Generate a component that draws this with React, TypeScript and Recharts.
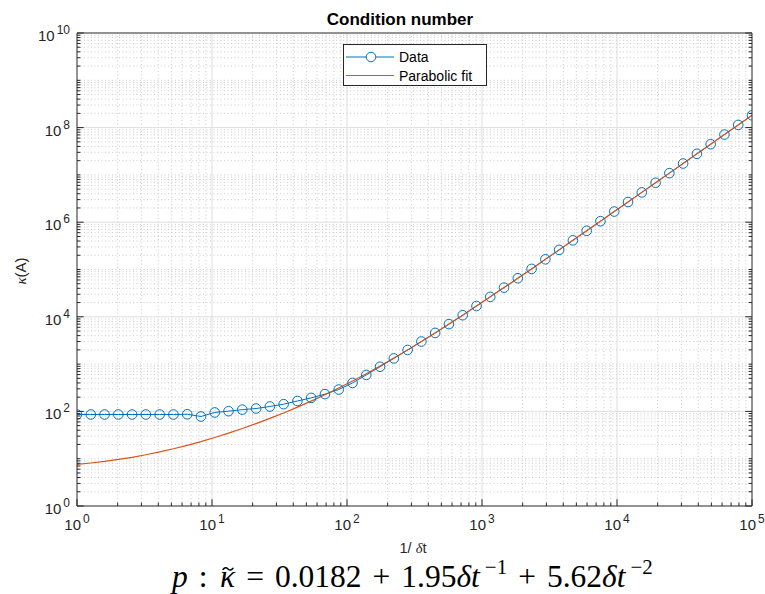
import { ComposedChart, Line, XAxis, YAxis, ReferenceLine } from 'recharts'

// 1/dt sample points (logspace 0..5, 50 points)
const xValues = [
  1, 1.265, 1.6, 2.024, 2.56, 3.237, 4.095, 5.179, 6.551, 8.286,
  10.48, 13.26, 16.77, 21.21, 26.83, 33.93, 42.92, 54.28, 68.66, 86.85,
  109.9, 138.9, 175.7, 222.3, 281.2, 355.6, 449.8, 568.9, 719.6, 910.2,
  1151, 1456, 1842, 2330, 2947, 3727, 4714, 5963, 7542, 9540,
  12070, 15260, 19310, 24420, 30890, 39070, 49410, 62500, 79050, 100000,
]

// measured condition number
const kappaData = [
  86, 86, 86, 86, 86, 86, 86, 86, 87, 78,
  95, 101, 109, 115, 127, 142, 166, 193, 232, 290,
  400, 590, 880, 1320, 1990, 3000, 4560, 7000, 10800, 16900,
  26400, 41400, 65400, 103000, 164000, 260000, 414000, 659000, 1050000, 1680000,
  2670000, 4270000, 6820000, 10900000, 17400000, 27900000, 44500000, 71200000, 114000000, 182000000,
]

// parabolic fit curve
const kappaFit = [
  7.59, 8.12, 8.79, 9.64, 10.7, 12.1, 13.9, 16.2, 19.2, 23.0,
  28.1, 34.7, 43.4, 55.2, 71.0, 92.7, 123, 165, 225, 312,
  439, 628, 910, 1340, 1990, 3000, 4570, 7010, 10800, 16900,
  26400, 41400, 65400, 103000, 164000, 260000, 414000, 659000, 1050000, 1680000,
  2670000, 4270000, 6820000, 10900000, 17400000, 27900000, 44500000, 71200000, 114000000, 182000000,
]

const xDecades = [0, 1, 2, 3, 4, 5]
const yDecades = [0, 1, 2, 3, 4, 5, 6, 7, 8, 9, 10]
const yLabelled = [0, 2, 4, 6, 8, 10]
const mantissas = [2, 3, 4, 5, 6, 7, 8, 9]

const BLUE = '#0072BD'
const RED = '#D95319'
const AXIS = '#262626'
const SANS = "'Liberation Sans', Arial, Helvetica, sans-serif"
const SERIF = "'Liberation Serif', 'Times New Roman', serif"

const chartData = xValues.map((x, i) => ({ x, data: kappaData[i], fit: kappaFit[i] }))

const minorOf = (decades: number[]) =>
  decades.slice(0, -1).flatMap((d) => mantissas.map((m) => m * Math.pow(10, d)))

const xMajor = xDecades.map((d) => Math.pow(10, d))
const xMinor = minorOf(xDecades)
const xTicks = [...xMajor, ...xMinor]

const yMajor = yLabelled.map((d) => Math.pow(10, d))
const yOdd = yDecades.filter((d) => !yLabelled.includes(d)).map((d) => Math.pow(10, d))
const yMinor = [...minorOf(yDecades), ...yOdd]
const yTicks = [...yMajor, ...yMinor]

const exponentOf = (v: number) => Math.round(Math.log10(v))
const isMajorX = (v: number) => Math.abs(Math.log10(v) - exponentOf(v)) < 1e-6
const isMajorY = (v: number) => isMajorX(v) && exponentOf(v) % 2 === 0

const MAJOR_LEN = 6.7
const MINOR_LEN = 3.4

function BottomTick(props: any) {
  const { x, y, payload } = props
  const major = isMajorX(payload.value)
  return (
    <g>
      <line x1={x} x2={x} y1={y} y2={y - (major ? MAJOR_LEN : MINOR_LEN)} stroke={AXIS} strokeWidth={1} />
      {major && (
        <text x={x} y={y + 24} textAnchor="middle" fill={AXIS} fontSize={15} fontFamily={SANS}>
          10<tspan dx={2} dy={-7} fontSize={12}>{exponentOf(payload.value)}</tspan>
        </text>
      )}
    </g>
  )
}

function TopTick(props: any) {
  const { x, y, payload } = props
  const major = isMajorX(payload.value)
  return <line x1={x} x2={x} y1={y} y2={y + (major ? MAJOR_LEN : MINOR_LEN)} stroke={AXIS} strokeWidth={1} />
}

function LeftTick(props: any) {
  const { x, y, payload } = props
  const major = isMajorY(payload.value)
  return (
    <g>
      <line x1={x} x2={x + (major ? MAJOR_LEN : MINOR_LEN)} y1={y} y2={y} stroke={AXIS} strokeWidth={1} />
      {major && (
        <text x={x - 7} y={y + 8} textAnchor="end" fill={AXIS} fontSize={15} fontFamily={SANS}>
          10<tspan dx={2} dy={-7} fontSize={12}>{exponentOf(payload.value)}</tspan>
        </text>
      )}
    </g>
  )
}

function RightTick(props: any) {
  const { x, y, payload } = props
  const major = isMajorY(payload.value)
  return <line x1={x} x2={x - (major ? MAJOR_LEN : MINOR_LEN)} y1={y} y2={y} stroke={AXIS} strokeWidth={1} />
}

function LegendBox() {
  return (
    <div
      style={{
        position: 'absolute',
        left: 343,
        top: 44,
        width: 144,
        height: 42,
        border: `1px solid ${AXIS}`,
        background: '#fff',
        boxSizing: 'border-box',
      }}
    >
      <svg width={142} height={40} style={{ display: 'block' }}>
        <line x1={2} x2={50} y1={12} y2={12} stroke={BLUE} strokeWidth={1} />
        <circle cx={27} cy={12} r={4.8} stroke={BLUE} fill="#fff" strokeWidth={1} />
        <text x={55} y={17} fontSize={14} fontFamily={SANS} fill="#000">Data</text>
        <line x1={2} x2={50} y1={30.5} y2={30.5} stroke={RED} strokeWidth={1.2} />
        <text x={55} y={35.5} fontSize={14} fontFamily={SANS} fill="#000">Parabolic fit</text>
      </svg>
    </div>
  )
}

// fit equation, laid out left to right with TeX-like spacing
const KAPPA_X = 220
function Formula() {
  return (
    <g>
      <text x={172} y={587} fontSize={31.5} fontFamily={SERIF} fill="#000">
        <tspan fontStyle="italic">p</tspan>
        <tspan dx={11}>:</tspan>
        <tspan x={KAPPA_X} fontStyle="italic">κ</tspan>
        <tspan dx={11}>=</tspan>
        <tspan dx={11}>0.0182</tspan>
        <tspan dx={11}>+</tspan>
        <tspan dx={11}>1.95</tspan>
        <tspan fontStyle="italic">δt</tspan>
        <tspan dx={5} dy={-13} fontSize={21}>−1</tspan>
        <tspan dx={11} dy={13}>+</tspan>
        <tspan dx={11}>5.62</tspan>
        <tspan fontStyle="italic">δt</tspan>
        <tspan dx={5} dy={-13} fontSize={21}>−2</tspan>
      </text>
      <path
        d={`M${KAPPA_X + 3} 569.5 q2.5 -3.2 5 -0.6 t5 -0.6`}
        fill="none"
        stroke="#000"
        strokeWidth={1.4}
        strokeLinecap="round"
      />
    </g>
  )
}

function Annotations() {
  return (
    <svg width={765} height={594} style={{ position: 'absolute', left: 0, top: 0, pointerEvents: 'none' }}>
      <text x={400} y={25} textAnchor="middle" fontSize={17} fontWeight="bold" fontFamily={SANS} fill="#000">
        Condition number
      </text>
      <text x={413} y={553} textAnchor="middle" fontSize={14.5} fontFamily={SANS} fill={AXIS}>
        1/ <tspan fontFamily={SERIF} fontStyle="italic">δ</tspan>t
      </text>
      <text
        x={26}
        y={271}
        textAnchor="middle"
        fontSize={15}
        fontFamily={SANS}
        fill={AXIS}
        transform="rotate(-90 26 271)"
      >
        <tspan fontFamily={SERIF} fontStyle="italic">κ</tspan>(A)
      </text>
      <Formula />
    </svg>
  )
}

export default function App() {
  return (
    <div style={{ position: 'relative', width: 765, height: 594, background: '#fff' }}>
      <style>{'body{margin:0}'}</style>
      <ComposedChart width={765} height={594} data={chartData} margin={{ top: 32, right: 12, bottom: 87, left: 76 }}>
        {xMinor.map((v) => (
          <ReferenceLine key={`xm${v}`} x={v} stroke="#cccccc" strokeDasharray="1 2.5" strokeWidth={1} />
        ))}
        {yMinor.map((v) => (
          <ReferenceLine key={`ym${v}`} y={v} stroke="#cccccc" strokeDasharray="1 2.5" strokeWidth={1} />
        ))}
        {xMajor.slice(1, -1).map((v) => (
          <ReferenceLine key={`xM${v}`} x={v} stroke="#dedede" strokeWidth={1} />
        ))}
        {yMajor.slice(1, -1).map((v) => (
          <ReferenceLine key={`yM${v}`} y={v} stroke="#dedede" strokeWidth={1} />
        ))}
        <XAxis
          dataKey="x"
          type="number"
          scale="log"
          domain={[1, 100000]}
          allowDataOverflow
          ticks={xTicks}
          interval={0}
          tick={<BottomTick />}
          tickSize={0}
          tickMargin={0}
          tickLine={false}
          height={1}
          axisLine={{ stroke: AXIS }}
        />
        <XAxis
          xAxisId="top"
          orientation="top"
          type="number"
          scale="log"
          domain={[1, 100000]}
          allowDataOverflow
          ticks={xTicks}
          interval={0}
          tick={<TopTick />}
          tickSize={0}
          tickMargin={0}
          tickLine={false}
          height={1}
          axisLine={{ stroke: AXIS }}
        />
        <YAxis
          type="number"
          scale="log"
          domain={[1, 1e10]}
          allowDataOverflow
          ticks={yTicks}
          interval={0}
          tick={<LeftTick />}
          tickSize={0}
          tickMargin={0}
          tickLine={false}
          width={1}
          axisLine={{ stroke: AXIS }}
        />
        <YAxis
          yAxisId="right"
          orientation="right"
          type="number"
          scale="log"
          domain={[1, 1e10]}
          allowDataOverflow
          ticks={yTicks}
          interval={0}
          tick={<RightTick />}
          tickSize={0}
          tickMargin={0}
          tickLine={false}
          width={1}
          axisLine={{ stroke: AXIS }}
        />
        <Line
          dataKey="data"
          stroke={BLUE}
          strokeWidth={1}
          dot={{ r: 4.8, stroke: BLUE, strokeWidth: 1, fill: 'none' }}
          isAnimationActive={false}
        />
        <Line dataKey="fit" stroke={RED} strokeWidth={1.2} dot={false} isAnimationActive={false} />
      </ComposedChart>
      <Annotations />
      <LegendBox />
    </div>
  )
}
